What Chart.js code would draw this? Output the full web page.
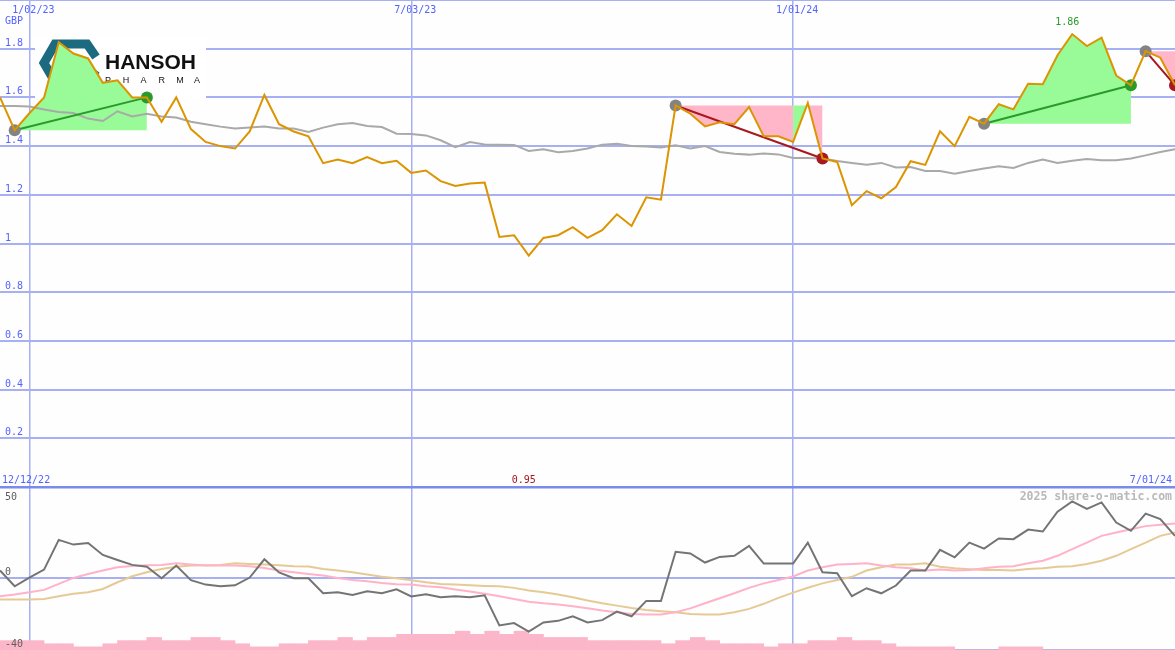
<!DOCTYPE html>
<html>
<head>
<meta charset="utf-8">
<title>Hansoh Pharma</title>
<script src="https://cdn.jsdelivr.net/npm/chart.js@4.4.1/dist/chart.umd.min.js"></script>
<style>
  body { margin: 0; background: #fdfefd; }
  #wrap { position: relative; width: 1175px; height: 650px; overflow: hidden; }
  #priceChart { position: absolute; left: 0; top: 0; }
  #oscChart { position: absolute; left: 0; top: 487px; }
</style>
</head>
<body>
<div id="wrap">
  <canvas id="priceChart" width="1175" height="487"></canvas>
  <canvas id="oscChart" width="1175" height="163"></canvas>
</div>
<script>
// weekly close, GBP
const price = [
  1.60, 1.465, 1.535, 1.60, 1.827, 1.78, 1.76, 1.66, 1.67, 1.60,
  1.60, 1.50, 1.60, 1.47, 1.417, 1.40, 1.39, 1.46, 1.61, 1.49,
  1.46, 1.44, 1.33, 1.345, 1.33, 1.355, 1.33, 1.34, 1.29, 1.30,
  1.256, 1.236, 1.246, 1.25, 1.027, 1.034, 0.95, 1.023, 1.034, 1.067,
  1.023, 1.055, 1.12, 1.072, 1.19, 1.18, 1.567, 1.533, 1.481, 1.498,
  1.49, 1.56, 1.44, 1.44, 1.417, 1.577, 1.349, 1.335, 1.157, 1.215,
  1.186, 1.232, 1.338, 1.323, 1.461, 1.40, 1.52, 1.492, 1.572, 1.551,
  1.656, 1.654, 1.773, 1.86, 1.811, 1.845, 1.69, 1.65, 1.79, 1.763,
  1.65
];
// moving average (grey)
const priceAvg = [
  1.565, 1.565, 1.563, 1.55, 1.54, 1.536, 1.513, 1.503, 1.543, 1.522,
  1.533, 1.522, 1.517, 1.50, 1.49, 1.48, 1.472, 1.476, 1.48, 1.472,
  1.472, 1.458, 1.476, 1.49, 1.495, 1.483, 1.478, 1.451, 1.45, 1.444,
  1.424, 1.396, 1.417, 1.407, 1.406, 1.405, 1.38, 1.387, 1.375, 1.38,
  1.39, 1.406, 1.41, 1.40, 1.398, 1.394, 1.403, 1.39, 1.40, 1.376,
  1.369, 1.365, 1.37, 1.366, 1.351, 1.351, 1.349, 1.339, 1.331, 1.323,
  1.331, 1.312, 1.314, 1.298, 1.298, 1.287, 1.298, 1.308, 1.317, 1.31,
  1.331, 1.345, 1.331, 1.34, 1.347, 1.342, 1.342, 1.349, 1.362, 1.376,
  1.387
];
// oscillator panel
const osc = [
  3.9, -4.8, 0, 4.4, 20.8, 18.2, 19.1, 12.5, 9.7, 7.0,
  6.0, -0.4, 6.6, -1.4, -3.9, -4.8, -4.3, 0, 10.1, 2.8,
  -0.4, -0.4, -8.7, -8.1, -9.6, -7.6, -8.7, -6.5, -10.4, -9.2,
  -10.9, -10.3, -10.9, -9.8, -26.4, -25.1, -29.8, -24.8, -23.9, -21.4,
  -24.8, -23.5, -18.8, -21.4, -12.9, -12.9, 14.2, 13.3, 8.3, 11.4,
  12.0, 17.5, 7.7, 7.7, 7.7, 19.3, 2.9, 2.4, -10.3, -5.9,
  -8.7, -4.4, 3.9, 3.9, 15.3, 11.2, 19.3, 16.0, 21.6, 21.2,
  26.5, 25.4, 36.4, 42.1, 37.9, 41.5, 30.4, 25.8, 35.3, 32.3,
  23.0
];
const oscFast = [
  -10.3, -9.3, -8.1, -6.8, -3.5, -0.2, 2.0, 3.9, 5.7, 6.4,
  6.8, 7.0, 7.9, 7.2, 6.6, 6.6, 6.6, 6.2, 5.3, 3.9,
  2.9, 2.0, 1.1, -0.2, -1.3, -2.1, -3.0, -3.7, -3.9, -4.8,
  -5.4, -6.6, -7.7, -9.0, -10.3, -11.8, -13.3, -14.2, -14.9, -15.9,
  -17.0, -18.2, -19.2, -20.1, -20.4, -20.4, -19.2, -17.0, -14.2, -11.4,
  -8.7, -5.7, -3.2, -1.3, 0.6, 3.9, 5.7, 7.2, 7.5, 7.9,
  6.6, 5.7, 5.1, 3.9, 4.4, 3.9, 4.2, 5.1, 6.0, 6.2,
  7.9, 9.3, 12.0, 15.7, 19.3, 23.0, 24.9, 26.7, 28.4, 29.1,
  29.8
];
const oscSlow = [
  -12.1, -12.1, -12.1, -11.8, -10.3, -9.0, -8.1, -6.3, -2.6, 0.7,
  2.9, 4.7, 6.0, 6.6, 6.8, 7.0, 7.9, 7.5, 7.2, 6.8,
  6.2, 6.1, 4.7, 3.9, 2.9, 1.7, 0.4, -0.4, -1.5, -2.6,
  -3.5, -3.9, -4.3, -4.6, -4.8, -5.7, -7.2, -8.1, -9.4, -10.9,
  -12.7, -14.2, -15.5, -16.8, -17.9, -18.6, -19.2, -20.1, -20.4, -20.4,
  -19.2, -17.3, -14.5, -11.2, -8.3, -5.6, -3.2, -1.3, 0.4, 3.9,
  5.7, 7.2, 7.2, 7.9, 6.0, 5.1, 4.6, 4.2, 4.2, 3.9,
  4.7, 5.1, 6.0, 6.2, 7.5, 9.3, 12.0, 15.7, 19.3, 23.0,
  24.9
];
// weekly volume (one bar per week)
const volume = [
  3, 3, 3, 2, 2, 1, 1, 2, 3, 3,
  4, 3, 3, 4, 4, 3, 2, 1, 1, 2,
  2, 3, 3, 4, 3, 4, 4, 5, 5, 5,
  5, 6, 5, 6, 5, 6, 5, 4, 4, 4,
  3, 3, 3, 3, 3, 2, 3, 4, 3, 2,
  2, 2, 1, 2, 2, 3, 3, 4, 3, 3,
  2, 1, 1, 1, 1, 0, 0, 0, 1, 1,
  1, 0, 0, 0, 0, 0, 0, 0, 0, 0
];

const priceTicks = [0, 0.2, 0.4, 0.6, 0.8, 1, 1.2, 1.4, 1.6, 1.8, 2];
const oscTicks = [-40, 0, 50];
const dateIdx = [2, 28, 54];
const dateLabels = ['1/02/23', '7/03/23', '1/01/24'];
const rangeLabels = ['12/12/22', '7/01/24'];
const trendStart = [1, 46, 67, 78];
const trendEnd = [10, 56, 77, 80];

const BG = '#fdfefd';
const GRID = '#a6b0f2';
const SEP = '#7b8bea';
const LABEL = '#5363ff';
const UP = '#2a9a2a', DOWN = '#a81820';
const FONT = '10px "DejaVu Sans Mono", monospace';

function pts(arr, from, to) {
  let out = [];
  for (let i = from; i <= to; i++) out.push({x: i, y: arr[i]});
  return out;
}

// shaded areas between each trend's start level and the price line
let fillSets = [];
trendStart.forEach((s, t) => {
  let e = trendEnd[t], base = price[s];
  let first = s + 1;
  for (let j = s + 2; j <= e + 1; j++) {
    if (j > e || (price[j] >= base) != (price[first] >= base)) {
      fillSets.push({
        data: pts(price, first - 1, j - 1),
        borderWidth: 0, pointRadius: 0,
        fill: {value: base},
        backgroundColor: price[first] >= base ? '#98fb98' : '#ffb6c8',
        order: 10
      });
      first = j;
    }
  }
});

let trendSets = trendStart.map((s, t) => {
  let e = trendEnd[t];
  return {
    data: [{x: s, y: price[s]}, {x: e, y: price[e]}],
    borderColor: price[e] >= price[s] ? UP : DOWN,
    borderWidth: 2, pointRadius: 0, order: 2
  };
});

let dotData = [], dotColors = [];
trendStart.forEach((s, t) => {
  let e = trendEnd[t];
  dotData.push({x: s, y: price[s]}); dotColors.push('#838383');
  dotData.push({x: e, y: price[e]}); dotColors.push(price[e] >= price[s] ? UP : DOWN);
});

const bgPlugin = {
  id: 'bg',
  beforeDraw(chart) {
    let c = chart.ctx;
    c.save(); c.fillStyle = BG; c.fillRect(0, 0, chart.width, chart.height); c.restore();
  }
};

const logoPlugin = {
  id: 'logo',
  beforeDatasetsDraw(chart) {
    let c = chart.ctx;
    c.save();
    c.fillStyle = '#ffffff';
    c.fillRect(35, 37, 171, 62);
    // hexagon mark
    c.strokeStyle = '#1c6a7f';
    c.lineWidth = 9;
    c.lineJoin = 'miter';
    c.beginPath();
    c.moveTo(96, 57); c.lineTo(87, 44); c.lineTo(55, 44); c.lineTo(44, 63);
    c.lineTo(55, 82); c.lineTo(87, 82); c.lineTo(96, 70);
    c.stroke();
    c.fillStyle = '#111111';
    c.font = 'bold 21px "Liberation Sans", Arial, sans-serif';
    c.textBaseline = 'alphabetic';
    c.fillText('HANSOH', 105, 69);
    c.font = '9px "Liberation Sans", Arial, sans-serif';
    'PHARMA'.split('').forEach((ch, k) => c.fillText(ch, 105 + k * 17.8, 83));
    c.restore();
  }
};

const priceText = {
  id: 'priceText',
  afterDatasetsDraw(chart) {
    let c = chart.ctx, xs = chart.scales.x, ys = chart.scales.y;
    c.save();
    c.font = FONT;
    c.fillStyle = LABEL;
    c.textAlign = 'left';
    priceTicks.forEach(v => {
      if (v <= 0 || v >= 2) return;
      c.fillText(String(+v.toFixed(1)), 5, ys.getPixelForValue(v) - 3);
    });
    c.fillText('GBP', 5, 24);
    c.textAlign = 'center';
    dateIdx.forEach((d, k) => c.fillText(dateLabels[k], xs.getPixelForValue(d) + 4, 13));
    c.textAlign = 'left';
    c.fillText(rangeLabels[0], 2, 483);
    c.textAlign = 'right';
    c.fillText(rangeLabels[1], 1172, 483);
    // high / low markers
    let hi = price.indexOf(Math.max(...price));
    let lo = price.indexOf(Math.min(...price));
    c.textAlign = 'center';
    c.fillStyle = UP;
    c.fillText(Math.max(...price).toFixed(2), xs.getPixelForValue(hi) - 5, ys.getPixelForValue(price[hi]) - 9);
    c.fillStyle = DOWN;
    c.fillText(Math.min(...price).toFixed(2), xs.getPixelForValue(lo) - 5, 483);
    c.restore();
  }
};

const oscText = {
  id: 'oscText',
  beforeDatasetsDraw(chart) {
    let c = chart.ctx;
    c.save();
    c.font = 'bold 11.5px "DejaVu Sans Mono", monospace';
    c.fillStyle = '#b9b9b9';
    c.textAlign = 'right';
    c.fillText('2025 share-o-matic.com', 1172, 13);
    c.restore();
  },
  afterDatasetsDraw(chart) {
    let c = chart.ctx, ys = chart.scales.y;
    c.save();
    c.font = FONT;
    c.fillStyle = '#5e5e5e';
    c.textAlign = 'left';
    oscTicks.forEach(v => {
      let y = ys.getPixelForValue(v);
      c.fillText(String(v), 5, v == 50 ? y + 13 : y - 3);
    });
    c.restore();
  }
};

const xAxis = {
  type: 'linear', min: 0, max: 80, offset: false,
  afterFit: s => { s.height = 0; },
  afterBuildTicks: s => { s.ticks = dateIdx.map(v => ({value: v})); },
  ticks: {display: false},
  border: {display: false},
  grid: {color: GRID, lineWidth: 1.5, drawTicks: false, offset: false}
};

new Chart(document.getElementById('priceChart'), {
  type: 'line',
  data: {
    datasets: [
      {data: pts(price, 0, price.length - 1), borderColor: '#dc9400', borderWidth: 2, pointRadius: 0, fill: false, order: 0},
      {data: dotData, showLine: false, pointRadius: 6, pointBorderWidth: 0, pointBackgroundColor: dotColors, order: 1},
      ...trendSets,
      {data: pts(priceAvg, 0, priceAvg.length - 1), borderColor: '#a9a9a9', borderWidth: 2, pointRadius: 0, fill: false, order: 3},
      ...fillSets
    ]
  },
  options: {
    responsive: false,
    animation: false,
    layout: {padding: 0, autoPadding: false},
    elements: {line: {tension: 0}},
    plugins: {legend: {display: false}, tooltip: {enabled: false}},
    scales: {
      x: xAxis,
      y: {
        min: 0, max: 2,
        afterFit: s => { s.width = 0; },
        afterBuildTicks: s => { s.ticks = priceTicks.map(v => ({value: v})); },
        ticks: {display: false},
        border: {display: false},
        grid: {drawTicks: false, lineWidth: c => c.tick.value == 0 ? 2.5 : 2, color: c => c.tick.value == 0 ? SEP : GRID}
      }
    }
  },
  plugins: [bgPlugin, logoPlugin, priceText]
});

new Chart(document.getElementById('oscChart'), {
  type: 'line',
  data: {
    datasets: [
      {data: pts(osc, 0, osc.length - 1), borderColor: '#747474', borderWidth: 2, pointRadius: 0, order: 0},
      {data: pts(oscFast, 0, oscFast.length - 1), borderColor: '#ffb2c8', borderWidth: 2, pointRadius: 0, order: 1},
      {data: pts(oscSlow, 0, oscSlow.length - 1), borderColor: '#e6ca96', borderWidth: 2, pointRadius: 0, order: 2},
      {type: 'bar', yAxisID: 'yv', data: volume.map((v, k) => ({x: k + 0.5, y: v})),
       backgroundColor: '#fcb6c9', borderWidth: 0, barPercentage: 1, categoryPercentage: 1, order: 10}
    ]
  },
  options: {
    responsive: false,
    animation: false,
    layout: {padding: 0, autoPadding: false},
    plugins: {legend: {display: false}, tooltip: {enabled: false}},
    scales: {
      x: xAxis,
      y: {
        min: -40, max: 50,
        afterFit: s => { s.width = 0; },
        afterBuildTicks: s => { s.ticks = oscTicks.map(v => ({value: v})); },
        ticks: {display: false},
        border: {display: false},
        grid: {drawTicks: false, lineWidth: c => c.tick.value == 50 ? 2.5 : 2, color: c => c.tick.value == 50 ? SEP : GRID}
      },
      yv: {display: false, min: 0, max: 52}
    }
  },
  plugins: [bgPlugin, oscText]
});
</script>
</body>
</html>
